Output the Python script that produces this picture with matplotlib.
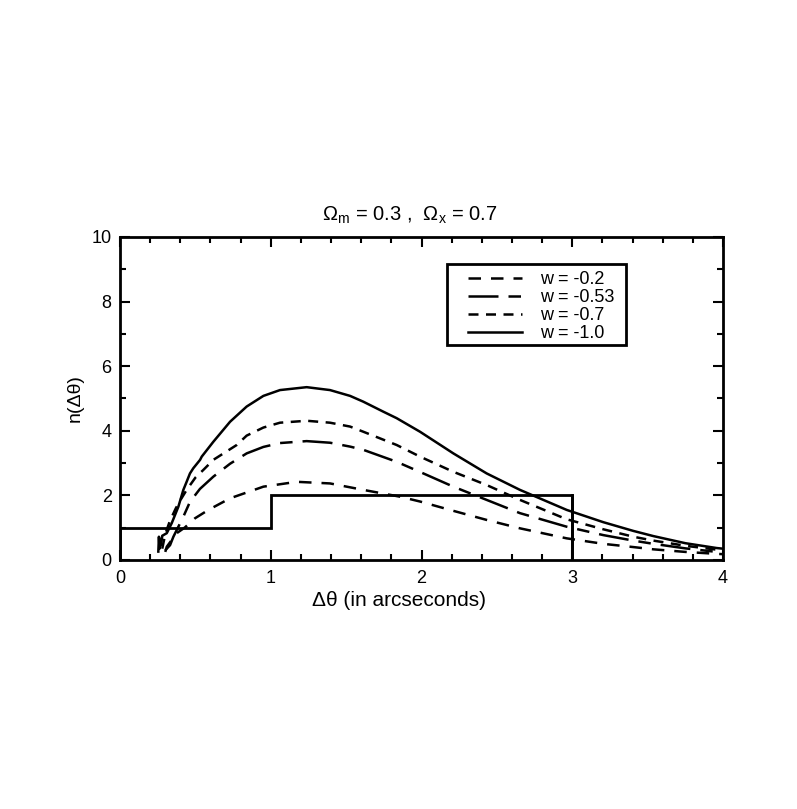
import numpy as np
import matplotlib.pyplot as plt
from matplotlib.ticker import MultipleLocator
from matplotlib.patches import Rectangle

plt.rcParams['font.family'] = ['Liberation Sans', 'DejaVu Sans']
plt.rcParams['mathtext.fontset'] = 'custom'
plt.rcParams['mathtext.rm'] = 'Liberation Sans'
plt.rcParams['mathtext.it'] = 'Liberation Sans'

# observed histogram (step edges and heights)
hist_edges = [0, 1, 3]
hist_heights = [1, 2]

# w = -1.0 (solid)
x_w10 = [0.254, 0.258, 0.262, 0.266, 0.272, 0.28, 0.31, 0.343, 0.387, 0.42, 0.44, 0.464,
         0.486, 0.531, 0.542, 0.619, 0.730, 0.840, 0.951, 1.061, 1.238, 1.393, 1.526,
         1.614, 1.747, 1.835, 1.990, 2.211, 2.432, 2.653, 2.963, 3.206, 3.405, 3.538,
         3.75, 3.958, 4.0]
y_w10 = [0.26, 0.72, 0.35, 0.65, 0.45, 0.75, 0.83, 1.14, 1.65, 2.17, 2.40, 2.68,
         2.84, 3.10, 3.20, 3.66, 4.28, 4.75, 5.08, 5.26, 5.35, 5.26, 5.08,
         4.90, 4.59, 4.39, 3.97, 3.30, 2.68, 2.17, 1.55, 1.17, 0.90, 0.74,
         0.52, 0.37, 0.35]

# w = -0.7 (short dashes)
x_w07 = [0.28, 0.30, 0.33, 0.37, 0.40, 0.442, 0.50, 0.553, 0.619, 0.774, 0.840, 0.951,
         1.061, 1.238, 1.393, 1.526, 1.614, 1.835, 1.990, 2.211, 2.432, 2.653, 2.963,
         3.206, 3.405, 3.538, 3.75, 3.958, 4.0]
y_w07 = [0.35, 0.80, 1.20, 1.60, 1.85, 2.17, 2.55, 2.79, 3.10, 3.56, 3.85, 4.10,
         4.25, 4.31, 4.25, 4.13, 3.97, 3.56, 3.20, 2.73, 2.32, 1.86, 1.26,
         0.95, 0.72, 0.60, 0.44, 0.32, 0.29]

# w = -0.53 (dash-dot)
x_w053 = [0.30, 0.332, 0.354, 0.42, 0.464, 0.530, 0.619, 0.730, 0.840, 0.951, 1.061,
          1.238, 1.393, 1.526, 1.614, 1.835, 2.012, 2.211, 2.432, 2.653, 2.963, 3.206,
          3.405, 3.538, 3.75, 3.958, 4.0]
y_w053 = [0.30, 0.46, 0.72, 1.34, 1.80, 2.20, 2.58, 2.98, 3.30, 3.50, 3.62,
          3.68, 3.63, 3.51, 3.41, 3.04, 2.68, 2.27, 1.86, 1.45, 1.03, 0.77,
          0.60, 0.50, 0.36, 0.25, 0.23]

# w = -0.2 (long dashes)
x_w02 = [0.30, 0.31, 0.343, 0.376, 0.431, 0.497, 0.586, 0.730, 0.951, 1.172, 1.393,
         1.614, 1.857, 1.990, 2.189, 2.432, 2.653, 2.963, 3.206, 3.405, 3.538, 3.75,
         3.958, 4.0]
y_w02 = [0.25, 0.41, 0.62, 0.83, 1.01, 1.29, 1.55, 1.91, 2.27, 2.42, 2.37,
         2.17, 1.96, 1.81, 1.55, 1.24, 0.98, 0.67, 0.50, 0.40, 0.33, 0.25,
         0.19, 0.18]

fig = plt.figure(figsize=(7.97, 8.09), dpi=100)
ax = fig.add_axes([0.1506, 0.3078, 0.7566, 0.3993])

lw = 1.8
ax.plot(x_w02, y_w02, color='black', lw=lw, dashes=(5, 4), label='w = -0.2')
ax.plot(x_w053, y_w053, color='black', lw=lw, dashes=(12, 4, 5, 4), label='w = -0.53')
ax.plot(x_w07, y_w07, color='black', lw=lw, dashes=(4, 3), label='w = -0.7')
ax.plot(x_w10, y_w10, color='black', lw=lw, label='w = -1.0')

# histogram
ax.stairs(hist_heights, hist_edges, color='black', lw=2)
ax.plot([hist_edges[-1], hist_edges[-1]], [0, hist_heights[-1]], color='black', lw=2)

ax.set_xlim(0, 4)
ax.set_ylim(0, 10)
ax.xaxis.set_major_locator(MultipleLocator(1))
ax.xaxis.set_minor_locator(MultipleLocator(0.2))
ax.yaxis.set_major_locator(MultipleLocator(2))
ax.yaxis.set_minor_locator(MultipleLocator(1))
ax.tick_params(which='both', direction='in', top=True, right=True, width=1.5, labelsize=13)
ax.tick_params(which='major', length=7)
ax.tick_params(which='minor', length=4)
ax.tick_params(axis='x', pad=7)
ax.tick_params(axis='y', pad=6)
for s in ax.spines.values():
    s.set_linewidth(2)

ax.set_title(r'$\Omega_{\rm m}$ = 0.3 ,  $\Omega_{\rm x}$ = 0.7', fontsize=14.5, pad=12, x=0.481)
ax.set_xlabel('Δθ (in arcseconds)', fontsize=15, labelpad=3, x=0.463)
ax.set_ylabel('n(Δθ)', fontsize=14, labelpad=6)

# legend box drawn separately so the padding matches
ax.add_patch(Rectangle((0.542, 0.666), 0.297, 0.250, transform=ax.transAxes,
                       fill=True, facecolor='white', edgecolor='black', lw=2, zorder=4))
leg = ax.legend(loc='upper left', bbox_to_anchor=(0.577, 0.894), fontsize=13,
                frameon=False, handlelength=3.0, borderpad=0,
                labelspacing=0.05, handletextpad=1.0, borderaxespad=0)
leg.set_zorder(5)

fig.savefig('out.png', dpi=100)
